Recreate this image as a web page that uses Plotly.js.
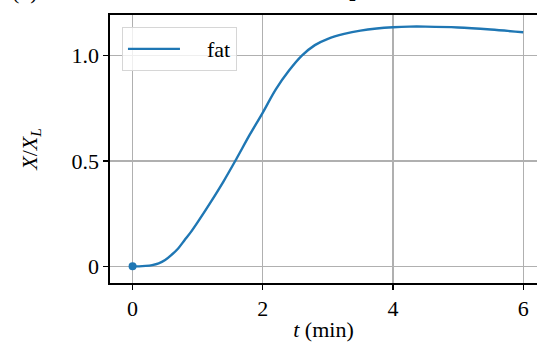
<!DOCTYPE html>
<html>
<head>
<meta charset="utf-8">
<script src="https://cdn.plot.ly/plotly-3.0.1.min.js"></script>
<style>html,body{margin:0;padding:0;background:#fff;}#chart{width:537px;height:342px;}</style>
</head>
<body>
<div id="chart"></div>
<script>
const tMin = [0, 0.1, 0.2, 0.3, 0.4, 0.5, 0.6, 0.7, 0.8, 0.9, 1.0, 1.2, 1.4, 1.6, 1.8, 2.0, 2.2, 2.4, 2.6, 2.8, 3.0, 3.25, 3.5, 3.75, 4.0, 4.25, 4.5, 5.0, 5.5, 6.0];
const fatRatio = [0, 0.0, 0.002, 0.006, 0.014, 0.03, 0.055, 0.085, 0.125, 0.165, 0.21, 0.305, 0.405, 0.513, 0.625, 0.73, 0.84, 0.928, 1.0, 1.05, 1.08, 1.103, 1.119, 1.129, 1.135, 1.138, 1.138, 1.134, 1.124, 1.111];
const startT = [0];
const startVal = [0];
const xTicks = [0, 2, 4, 6];
const yTicks = [0, 0.5, 1.0];
const yTickText = ['0', '0.5', '1.0'];
const seriesName = 'fat';

const blue = '#1f77b4';
const font = {family: '"Liberation Serif", "DejaVu Serif", serif', size: 22, color: '#000'};

const traces = [
  {x: tMin, y: fatRatio, type: 'scatter', mode: 'lines', name: '&nbsp;&nbsp;&nbsp;&nbsp;' + seriesName,
   line: {color: blue, width: 2.4, shape: 'spline', smoothing: 1}},
  {x: startT, y: startVal, type: 'scatter', mode: 'markers', showlegend: false,
   marker: {color: blue, size: 8}, cliponaxis: false}
];

const layout = {
  width: 537, height: 342,
  margin: {l: 110, r: 0, t: 15, b: 59, pad: 0},
  paper_bgcolor: '#fff', plot_bgcolor: '#fff',
  font: font,
  showlegend: true,
  legend: {x: 0.028, y: 0.955, xanchor: 'left', yanchor: 'top',
           bgcolor: 'rgba(255,255,255,0.8)', bordercolor: '#d6d6d6', borderwidth: 1,
           font: font, itemwidth: 52, tracegroupgap: 0},
  xaxis: {range: [-0.347, 6.212], tickvals: xTicks, ticktext: xTicks.map(String),
          showgrid: true, gridcolor: '#b0b0b0', gridwidth: 1.4, zeroline: false,
          showline: true, linecolor: '#000', linewidth: 1.6, mirror: true,
          ticks: 'outside', ticklen: 5, tickwidth: 1.3, tickcolor: '#000',
          tickfont: font,
          title: {text: '<i>t</i> (min)', font: font, standoff: 5}},
  yaxis: {range: [-0.079, 1.193], tickvals: yTicks, ticktext: yTickText,
          showgrid: true, gridcolor: '#b0b0b0', gridwidth: 1.4, zeroline: false,
          showline: true, linecolor: '#000', linewidth: 1.6, mirror: false,
          ticks: 'outside', ticklen: 5, tickwidth: 1.3, tickcolor: '#000',
          tickfont: font,
          title: {text: '<i>X</i>/<i>X</i><sub><i>L</i></sub>', font: font, standoff: 28}},
  annotations: [
    {xref: 'paper', yref: 'paper', x: -0.2, y: 1.035, xanchor: 'center', yanchor: 'bottom',
     text: '(b)', showarrow: false, font: font},
    {xref: 'paper', yref: 'paper', x: 0.569, y: 1.035, xanchor: 'center', yanchor: 'bottom',
     text: '2', showarrow: false, font: {family: font.family, size: 14, color: '#000'}}
  ]
};

Plotly.newPlot('chart', traces, layout, {displayModeBar: false, staticPlot: true});
</script>
</body>
</html>
